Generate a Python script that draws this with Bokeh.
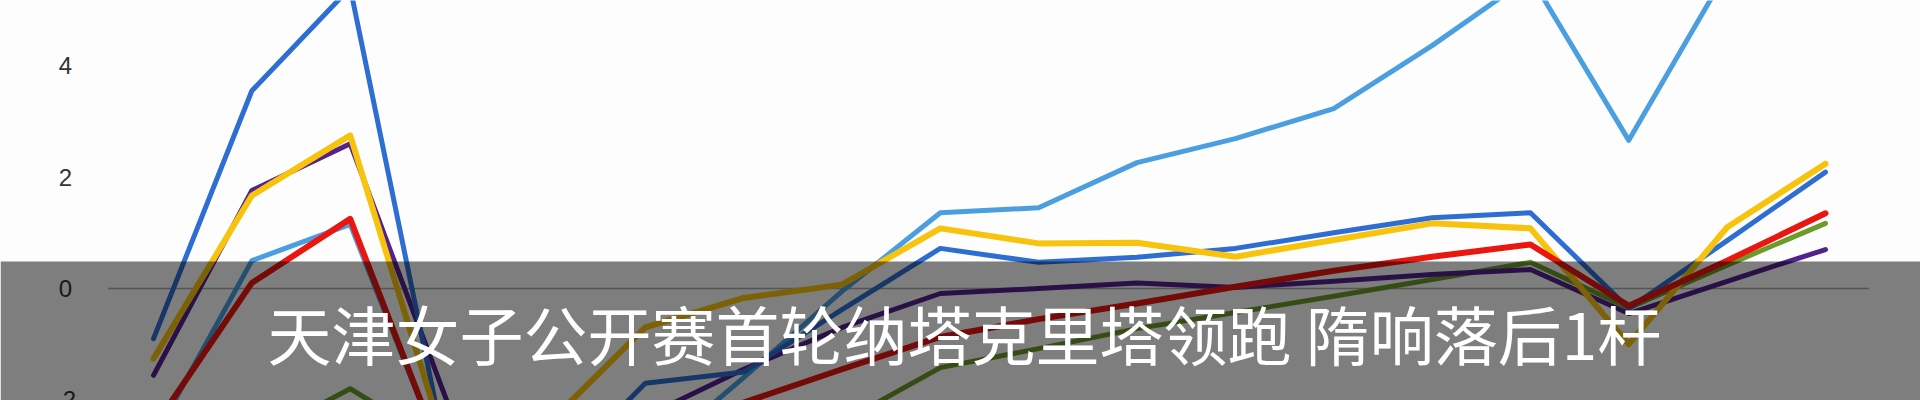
from bokeh.plotting import figure
from bokeh.models import BoxAnnotation, Label
from bokeh.core.properties import value
from bokeh.embed import file_html
from bokeh.resources import INLINE

holes = list(range(1, 19))

light_blue = [-2.7, 0.50, 1.15, -3.3, -3.5, -3.1, -1.60, -0.05, 1.36, 1.45, 2.26, 2.69, 3.23, 4.36, 5.60, 2.66, 5.70, 5.80]
blue       = [-0.90, 3.55, 5.40, -3.2, -3.5, -1.70, -1.50, -0.38, 0.72, 0.47, 0.56, 0.72, 1.00, 1.27, 1.36, -0.36, 0.86, 2.09]
yellow     = [-1.26, 1.67, 2.75, -3.0, -2.45, -0.70, -0.17, 0.07, 1.08, 0.81, 0.82, 0.57, 0.87, 1.17, 1.08, -1.00, 1.10, 2.24]
purple     = [-1.56, 1.76, 2.60, -2.1, -3.0, -2.30, -1.45, -0.70, -0.09, 0.00, 0.10, 0.02, 0.13, 0.25, 0.34, -0.45, 0.13, 0.70]
red        = [-2.50, 0.10, 1.25, -3.3, -3.0, -2.65, -2.05, -1.45, -0.87, -0.55, -0.27, 0.03, 0.32, 0.57, 0.79, -0.31, 0.50, 1.35]
green      = [-3.50, -2.73, -1.80, -2.87, -3.2, -3.2, -2.9, -2.40, -1.42, -1.08, -0.72, -0.43, -0.14, 0.16, 0.47, -0.35, 0.42, 1.17]

y_ticks = [-2, 0, 2, 4]
y_tick_labels = ["-2", "0", "2", "4"]
title_text = "天津女子公开赛首轮纳塔克里塔领跑 隋响落后1杆"

series = [
    (light_blue, "#4B9FE1", 5),
    (green, "#6B9B2A", 5),
    (purple, "#52228F", 5),
    (blue, "#2E6ED3", 5),
    (yellow, "#F8C30C", 6),
    (red, "#EA1710", 6),
]

p = figure(width=1920, height=400, output_backend="svg", toolbar_location=None,
           x_range=(-0.5557, 18.966), y_range=(-2.011, 5.171),
           min_border=0, min_border_left=0, min_border_right=0,
           min_border_top=0, min_border_bottom=0)
p.axis.visible = False
p.grid.visible = False
p.outline_line_color = None
p.background_fill_color = "#fdfdfd"
p.border_fill_color = "#fdfdfd"

# zero baseline
p.segment(x0=[0.54], y0=[0], x1=[18.44], y1=[0], line_color="#a8a8a8", line_width=1.5)

# y tick labels
p.text(x=[0.105] * len(y_ticks), y=y_ticks, text=y_tick_labels,
       text_font=value("Liberation Sans"), text_font_size="24px",
       text_color="#333333", text_align="center", text_baseline="middle")

for ys, col, w in series:
    p.line(holes, ys, line_color=col, line_width=w, line_join="round", line_cap="round")

banner = BoxAnnotation(top=0.485, fill_color="black", fill_alpha=0.5, line_color=None)
p.add_layout(banner)

lbl = Label(x=2.159, y=-0.79, text=title_text, text_font="Noto Sans CJK SC",
            text_font_size="64px", text_color="white", text_align="left",
            text_baseline="middle")
p.add_layout(lbl)

open("out.html", "w").write(file_html(p, INLINE))
